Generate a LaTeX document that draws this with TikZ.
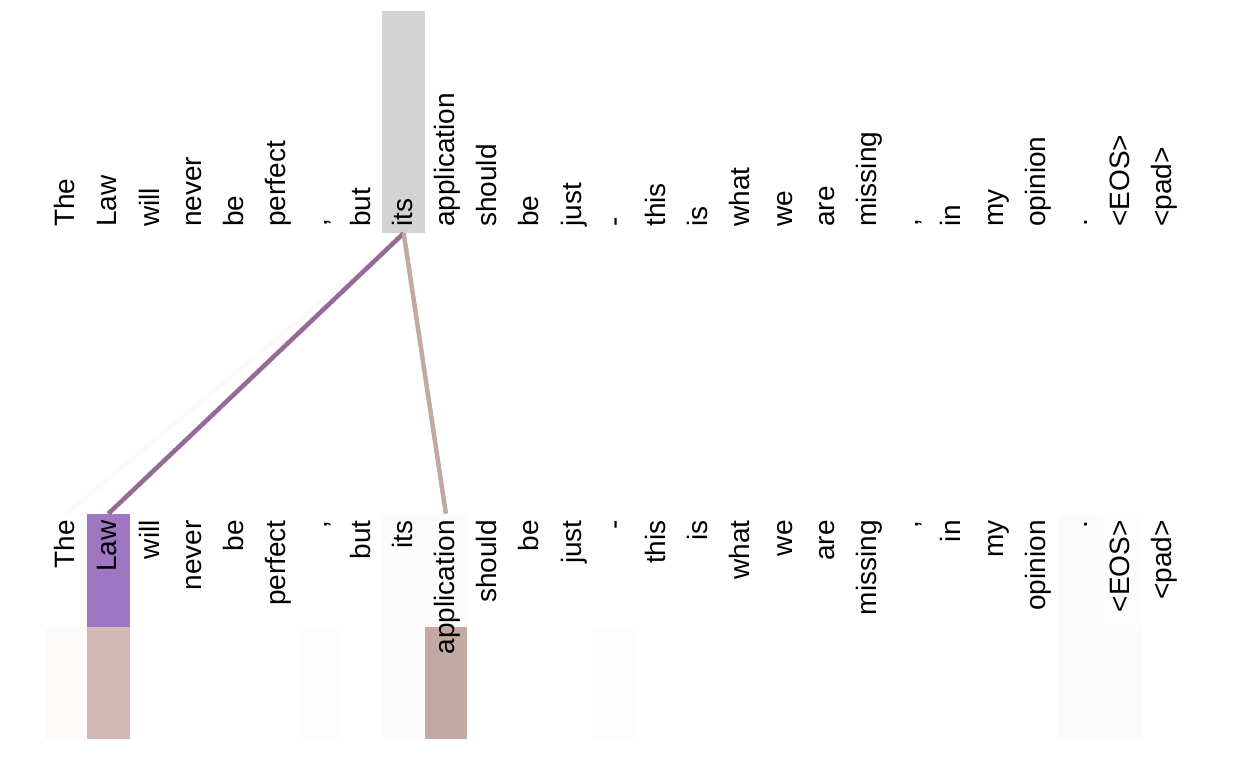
\documentclass[tikz,border=0pt]{standalone}
\usepackage{fontspec}
\setmainfont{Liberation Sans}
\usetikzlibrary{positioning}
\definecolor{qgray}{HTML}{D3D3D3}
\definecolor{qpurple}{HTML}{9E76C2}
\definecolor{kThe}{HTML}{FCFBFA}
\definecolor{kLaw}{HTML}{D1B8B3}
\definecolor{kapp}{HTML}{C4A8A3}
\definecolor{kfaint}{HTML}{FCFCFD}
\definecolor{lnLaw}{HTML}{956A96}
\definecolor{lnapp}{HTML}{C4A8A3}
\definecolor{lnThe}{HTML}{FCFBFA}
\tikzset{
 cell/.style={inner sep=0pt,minimum width=31.65pt,draw=none},
 tok/.style={rotate=90,inner sep=0pt,font=\fontsize{21}{22}\selectfont},
 attn/.style={line width=3.4pt}}

\begin{document}
\begin{tikzpicture}[x=0.75pt,y=-0.75pt]
\useasboundingbox (0,0) rectangle (1236,759);

% column cells
\foreach \w [count=\k from 0] in {The,Law,will,never,be,perfect,{,},but,its,application,should,be,just,-,this,is,what,we,are,missing,{,},in,my,opinion,.,<EOS>,<pad>} {
  \pgfmathsetmacro\cx{45+42.2*(\k+0.5)}
  \node[cell,minimum height=166.5pt] (tc\k) at (\cx,122) {};
  \node[cell,minimum height=84.75pt] (bc\k) at (\cx,570.5) {};
  \node[cell,minimum height=84pt] (hc\k) at (\cx,683) {};
}

\fill[qgray] (tc8.north west) rectangle (tc8.south east);
\fill[qpurple] (bc1.north west) rectangle (bc1.south east);
\fill[kThe] (hc0.north west) rectangle (hc0.south east);
\fill[kLaw] (hc1.north west) rectangle (hc1.south east);
\fill[kapp] (hc9.north west) rectangle (hc9.south east);
\fill[kfaint] (bc9.north west) rectangle (bc9.south east);
\fill[kfaint!60] (hc6.north west) rectangle (hc6.south east);
\fill[kfaint] (bc8.north west) rectangle (hc8.south east);
\fill[kfaint!60] (hc13.north west) rectangle (hc13.south east);
\fill[kfaint] (bc24.north west) rectangle (hc24.south east);
\fill[kfaint!70] (bc25.north west) rectangle (bc25.south east);
\fill[kfaint] (hc25.north west) rectangle (hc25.south east);

\draw[attn,lnThe] (tc8.south) -- (bc0.north);
\draw[attn,lnLaw] (tc8.south) -- (bc1.north);
\draw[attn,lnapp] (tc8.south) -- (bc9.north);

% tokens
\foreach \w [count=\k from 0] in {The,Law,will,never,be,perfect,{,},but,its,application,should,be,just,-,this,is,what,we,are,missing,{,},in,my,opinion,.,<EOS>,<pad>} {
  \pgfmathsetmacro\cx{45+42.2*(\k+0.5)}
  \node[tok,anchor=base west] (tw\k) at (\cx+8.5,227) {\w};
  \node[tok,anchor=base east] (bw\k) at (\cx+8.5,520) {\w};
}
\end{tikzpicture}
\end{document}
